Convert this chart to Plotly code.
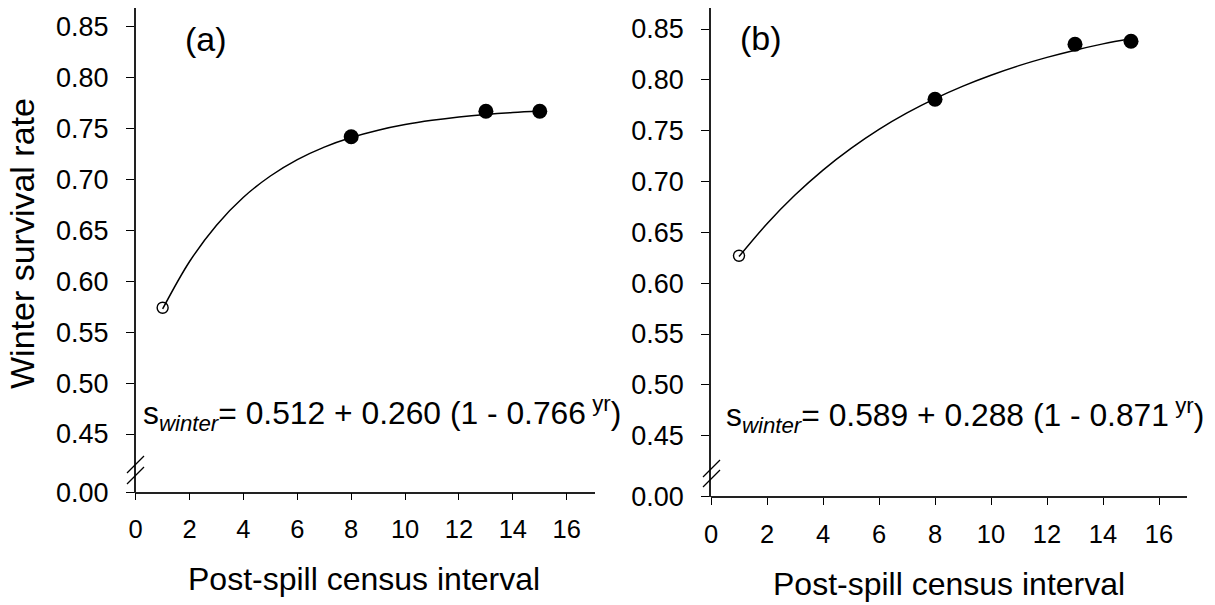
import plotly.graph_objects as go

# ---------------- data ----------------
# panel (a)
obs_x_a = [8, 13, 15]
obs_y_a = [0.742, 0.767, 0.767]
open_x_a = [1]
open_y_a = [0.574]
curve_x_a = [1, 2, 3, 4, 5, 6, 7, 8, 9, 10, 11, 12, 13, 14, 15]
curve_y_a = [0.5728, 0.6194, 0.6551, 0.6825, 0.7034, 0.7195, 0.7318, 0.7412,
             0.7484, 0.7539, 0.7581, 0.7614, 0.7639, 0.7658, 0.7672]
eq_a = ["0.512", "0.260", "0.766"]

# panel (b)
obs_x_b = [8, 13, 15]
obs_y_b = [0.781, 0.835, 0.838]
open_x_b = [1]
open_y_b = [0.627]
curve_x_b = [1, 2, 3, 4, 5, 6, 7, 8, 9, 10, 11, 12, 13, 14, 15]
curve_y_b = [0.6262, 0.6585, 0.6867, 0.7113, 0.7326, 0.7513, 0.7675, 0.7816,
             0.7939, 0.8046, 0.8140, 0.8221, 0.8292, 0.8354, 0.8407]
eq_b = ["0.589", "0.288", "0.871"]

y_ticks = [0.45, 0.50, 0.55, 0.60, 0.65, 0.70, 0.75, 0.80, 0.85]
y_ticktext = ["0.45", "0.50", "0.55", "0.60", "0.65", "0.70", "0.75", "0.80", "0.85"]
low_ticks = [0]
low_ticktext = ["0.00"]
x_ticks = [0, 2, 4, 6, 8, 10, 12, 14, 16]
panel_labels = ["(a)", "(b)"]
x_title = "Post-spill census interval"
y_title = "Winter survival rate"

# ---------------- layout helpers ----------------
W, H = 1215, 605
OFF = 8  # page body margin
FONT = "Liberation Sans, Arial, sans-serif"


def px(x):
    return min(1.0, max(0.0, (x - OFF) / W))


def py(y):
    return min(1.0, max(0.0, 1 - (y - OFF) / H))


fig = go.Figure()

# ---- traces panel a ----
fig.add_trace(go.Scatter(x=curve_x_a, y=curve_y_a, mode="lines", line=dict(color="black", width=1.5, shape="spline"),
                         xaxis="x", yaxis="y", showlegend=False, hoverinfo="skip"))
fig.add_trace(go.Scatter(x=obs_x_a, y=obs_y_a, mode="markers",
                         marker=dict(symbol="circle", size=15, color="black"),
                         xaxis="x", yaxis="y", showlegend=False))
fig.add_trace(go.Scatter(x=open_x_a, y=open_y_a, mode="markers",
                         marker=dict(symbol="circle-open", size=11, color="black", line=dict(width=1.4)),
                         xaxis="x", yaxis="y", showlegend=False))
# empty trace so the lower (broken) axis segment is an active subplot
fig.add_trace(go.Scatter(x=[], y=[], xaxis="x", yaxis="y2", showlegend=False, hoverinfo="skip"))
# ---- traces panel b ----
fig.add_trace(go.Scatter(x=curve_x_b, y=curve_y_b, mode="lines", line=dict(color="black", width=1.5, shape="spline"),
                         xaxis="x2", yaxis="y3", showlegend=False, hoverinfo="skip"))
fig.add_trace(go.Scatter(x=obs_x_b, y=obs_y_b, mode="markers",
                         marker=dict(symbol="circle", size=15, color="black"),
                         xaxis="x2", yaxis="y3", showlegend=False))
fig.add_trace(go.Scatter(x=open_x_b, y=open_y_b, mode="markers",
                         marker=dict(symbol="circle-open", size=11, color="black", line=dict(width=1.4)),
                         xaxis="x2", yaxis="y3", showlegend=False))
fig.add_trace(go.Scatter(x=[], y=[], xaxis="x2", yaxis="y4", showlegend=False, hoverinfo="skip"))

ytickfont = dict(family=FONT, size=27, color="black")
xtickfont = dict(family=FONT, size=25.5, color="black")
line_col = "#222222"

common_y = dict(showgrid=False, zeroline=False, showline=True, linecolor=line_col, linewidth=1.6,
                ticks="outside", ticklen=8, tickwidth=1.4, tickcolor="black", tickfont=ytickfont,
                ticklabelstandoff=12, ticklabeloverflow="allow", tickmode="array", showticklabels=True,
                automargin=False)
common_x = dict(showgrid=False, zeroline=False, showline=True, linecolor=line_col, linewidth=1.6,
                ticks="outside", ticklen=7, tickwidth=1.4, tickcolor="black", tickfont=xtickfont,
                tickmode="array", tickvals=x_ticks, ticklabeloverflow="allow", automargin=False)

# panel a geometry (screen pixels)
xa_dom = [px(135.7), px(595)]
ya_up = [py(470), py(8)]
ya_lo = [py(492.5), py(470)]
# panel b geometry
xb_dom = [px(711), px(1187)]
yb_up = [py(472.5), py(8.3)]
yb_lo = [py(496.7), py(472.5)]

fig.update_layout(
    width=W, height=H,
    autosize=False,
    margin=dict(l=0, r=0, t=0, b=0, autoexpand=False),
    paper_bgcolor="white", plot_bgcolor="white",
    font=dict(family=FONT, color="black"),
    xaxis=dict(domain=xa_dom, range=[0, 17.05], anchor="free", position=ya_lo[0],
               ticklabelstandoff=7, **common_x),
    yaxis=dict(domain=ya_up, range=[0.41465, 0.8684], anchor="x",
               tickvals=y_ticks, ticktext=y_ticktext, **common_y),
    yaxis2=dict(domain=ya_lo, range=[-0.002, 1], anchor="x",
                tickvals=low_ticks, ticktext=low_ticktext, **common_y),
    xaxis2=dict(domain=xb_dom, range=[0, 17], anchor="free", position=yb_lo[0],
                ticklabelstandoff=8, **common_x),
    yaxis3=dict(domain=yb_up, range=[0.4138, 0.8704], anchor="x2",
                tickvals=y_ticks, ticktext=y_ticktext, **common_y),
    yaxis4=dict(domain=yb_lo, range=[-0.002, 1], anchor="x2",
                tickvals=low_ticks, ticktext=low_ticktext, **common_y),
)

# axis break marks
shapes = []
for (x0, y0, x1, y1) in [(127, 473, 144, 456), (127, 484, 144, 467),
                         (703, 477, 720, 460), (703, 487, 720, 470)]:
    shapes.append(dict(type="line", xref="paper", yref="paper",
                       x0=px(x0), y0=py(y0), x1=px(x1), y1=py(y1),
                       line=dict(color="black", width=1.2)))
fig.update_layout(shapes=shapes)

ann = []
# panel labels
ann.append(dict(text=panel_labels[0], x=px(183), y=py(39), xref="paper", yref="paper",
                xanchor="left", yanchor="middle", showarrow=False, font=dict(family=FONT, size=34)))
ann.append(dict(text=panel_labels[1], x=px(738), y=py(38), xref="paper", yref="paper",
                xanchor="left", yanchor="middle", showarrow=False, font=dict(family=FONT, size=34)))


def eq_text(p):
    return f"s<sub><i>winter</i></sub>= {p[0]} + {p[1]} (1 - {p[2]}<sup> yr</sup>)"


ann.append(dict(text=eq_text(eq_a), x=px(141), y=py(413), xref="paper", yref="paper",
                xanchor="left", yanchor="middle", showarrow=False, font=dict(family=FONT, size=31.8)))
ann.append(dict(text=eq_text(eq_b), x=px(724), y=py(415), xref="paper", yref="paper",
                xanchor="left", yanchor="middle", showarrow=False, font=dict(family=FONT, size=31.8)))
# axis titles
ann.append(dict(text=x_title, x=px(364), y=py(579), xref="paper", yref="paper",
                xanchor="center", yanchor="middle", showarrow=False, font=dict(family=FONT, size=32)))
ann.append(dict(text=x_title, x=px(949), y=py(584), xref="paper", yref="paper",
                xanchor="center", yanchor="middle", showarrow=False, font=dict(family=FONT, size=32)))
ann.append(dict(text=y_title, x=px(22), y=py(244), xref="paper", yref="paper", textangle=-90,
                xanchor="center", yanchor="middle", showarrow=False, font=dict(family=FONT, size=34)))
fig.update_layout(annotations=ann)

fig.write_html("out.html")
